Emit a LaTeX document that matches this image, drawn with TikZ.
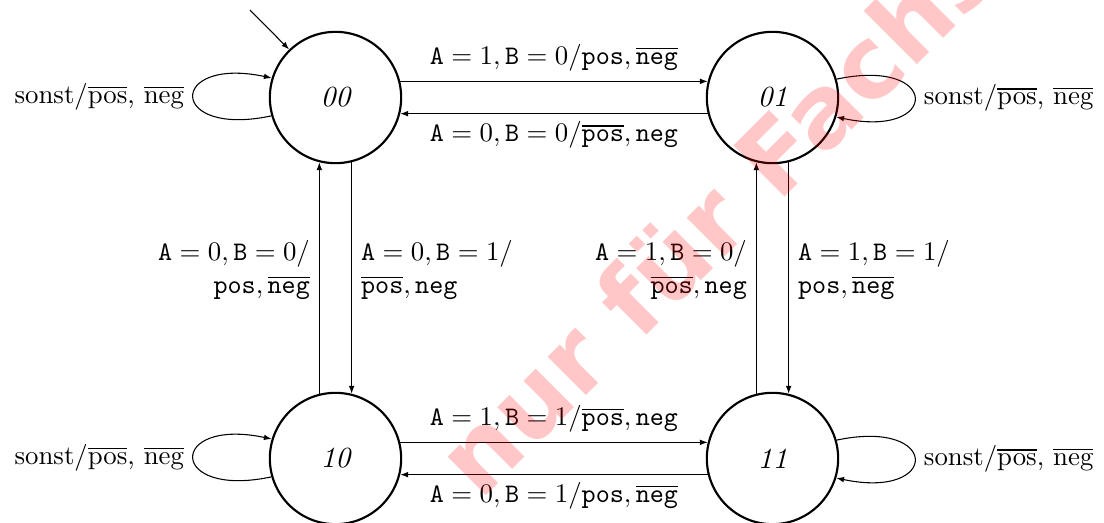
\documentclass[tikz,border=0pt]{standalone}
\usepackage{fontspec}
\newfontfamily\wmfont{DejaVu Sans}
\usetikzlibrary{arrows.meta}
\tikzset{
  state/.style={circle, draw, thick, minimum size=49pt, inner sep=0pt,
    font=\itshape\fontsize{10.9}{13}\selectfont},
  edge/.style={-{Latex[length=2.9pt,width=2.1pt]}, line width=0.4pt},
  wmark/.style={text=red, text opacity=0.22, inner sep=0pt,
    font=\wmfont\fontsize{37}{40}\bfseries\selectfont},
}
\newcommand{\ovt}[1]{\overline{\mathtt{#1}}}
\newcommand{\ovr}[1]{\overline{\mbox{#1}}}
\begin{document}
\begin{tikzpicture}[x=0.3731pt, y=-0.3731pt]
\useasboundingbox (0,0) rectangle (1104,523);
% states
\node[state] (n00) at (335.5,97.5) {00};
\node[state] (n01) at (772.5,97.5) {01};
\node[state] (n10) at (335.5,458.5) {10};
\node[state] (n11) at (772.5,458.5) {11};
% initial arrow
\coordinate (init) at (250,10);
\draw[edge] (init) -- (n00.134);
% horizontal transitions
\draw[edge] (n00.14) -- (n01.166)
  node[midway, anchor=base, yshift=6.4pt] {$\mathtt{A}=1,\mathtt{B}=0/\mathtt{pos},\ovt{neg}$};
\draw[edge] (n01.194) -- (n00.346)
  node[midway, anchor=base, yshift=-10.4pt] {$\mathtt{A}=0,\mathtt{B}=0/\ovt{pos},\mathtt{neg}$};
\draw[edge] (n10.14) -- (n11.166)
  node[midway, anchor=base, yshift=6.4pt] {$\mathtt{A}=1,\mathtt{B}=1/\ovt{pos},\mathtt{neg}$};
\draw[edge] (n11.194) -- (n10.346)
  node[midway, anchor=base, yshift=-10.4pt] {$\mathtt{A}=0,\mathtt{B}=1/\mathtt{pos},\ovt{neg}$};
% vertical transitions
\draw[edge] (n10.104) -- (n00.256)
  node[midway, left, align=right, yshift=3pt] {$\mathtt{A}=0,\mathtt{B}=0/$\\$\mathtt{pos},\ovt{neg}$};
\draw[edge] (n00.284) -- (n10.76)
  node[midway, right, align=left, yshift=3pt] {$\mathtt{A}=0,\mathtt{B}=1/$\\$\ovt{pos},\mathtt{neg}$};
\draw[edge] (n11.104) -- (n01.256)
  node[midway, left, align=right, yshift=3pt] {$\mathtt{A}=1,\mathtt{B}=0/$\\$\ovt{pos},\mathtt{neg}$};
\draw[edge] (n01.284) -- (n11.76)
  node[midway, right, align=left, yshift=3pt] {$\mathtt{A}=1,\mathtt{B}=1/$\\$\mathtt{pos},\ovt{neg}$};
% self loops
\draw[edge] (n00.196) .. controls +(-104,22) and +(-104,-22) .. (n00.163)
  node[pos=0.5, left] {sonst/$\ovr{pos}$, $\ovr{neg}$};
\draw[edge] (n10.196) .. controls +(-104,22) and +(-104,-22) .. (n10.163)
  node[pos=0.5, left] {sonst/$\ovr{pos}$, $\ovr{neg}$};
\draw[edge] (n01.16) .. controls +(104,-22) and +(104,22) .. (n01.343)
  node[pos=0.5, right] {sonst/$\ovr{pos}$, $\ovr{neg}$};
\draw[edge] (n11.16) .. controls +(104,-22) and +(104,22) .. (n11.343)
  node[pos=0.5, right] {sonst/$\ovr{pos}$, $\ovr{neg}$};
% watermark
\begin{scope}
\clip (0,0) rectangle (1104,523);
\node[wmark, rotate=45, anchor=base west] (wm) at (480,502) {nur für Fachschaft};
\end{scope}
\end{tikzpicture}
\end{document}
